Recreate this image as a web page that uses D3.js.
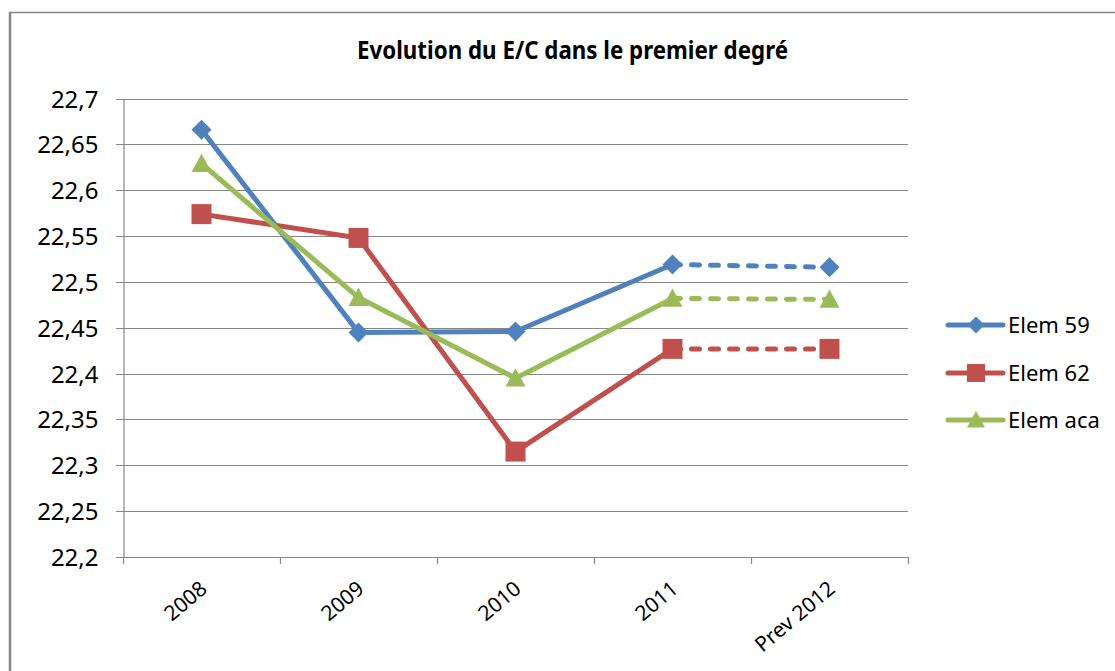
<!DOCTYPE html>
<html>
<head>
<meta charset="utf-8">
<script src="https://cdn.jsdelivr.net/npm/d3@7"></script>
<style>
  html, body { margin: 0; padding: 0; background: #fff; }
  svg { display: block; font-family: "Noto Sans", "DejaVu Sans", sans-serif; }
</style>
</head>
<body>
<svg id="chart" width="1115" height="671"></svg>
<script>
// categories (axe X)
var categories = ["2008", "2009", "2010", "2011", "Prev 2012"];

// valeurs E/C par serie
var elem59  = [22.666, 22.445, 22.446, 22.519, 22.516];
var elem62  = [22.574, 22.548, 22.315, 22.427, 22.427];
var elemAca = [22.629, 22.483, 22.395, 22.482, 22.481];

var seriesNames = ["Elem 59", "Elem 62", "Elem aca"];

// graduations axe Y
var yTicks = [22.2, 22.25, 22.3, 22.35, 22.4, 22.45, 22.5, 22.55, 22.6, 22.65, 22.7];

var title = "Evolution du E/C dans le premier degré";

var colors = ["#4F81BD", "#C0504D", "#9BBB59"];
var shapes = ["diamond", "square", "triangle"];
var gridColor = "#878787";

var series = [elem59, elem62, elemAca].map(function(values, i) {
    return {name: seriesNames[i], values: values, color: colors[i], shape: shapes[i]};
});

var svg = d3.select("#chart");

// cadre du graphique (bord gauche et haut seulement)
svg.append("line").attr("x1", 10).attr("y1", 12).attr("x2", 10).attr("y2", 671)
    .attr("stroke", gridColor).attr("stroke-width", 2.5);
svg.append("line").attr("x1", 9).attr("y1", 12.5).attr("x2", 1115).attr("y2", 12.5)
    .attr("stroke", gridColor).attr("stroke-width", 1.3);

var plotLeft = 123, plotRight = 908, plotTop = 98.6, plotBottom = 557;

var x = d3.scaleBand().domain(categories).range([plotLeft, plotRight]);
var y = d3.scaleLinear().domain([22.2, 22.7]).range([plotBottom, plotTop]);

function cx(i) { return x(categories[i]) + x.bandwidth() / 2; }

function fmt(d) { return String(+d.toFixed(2)).replace(".", ","); }

// titre
svg.append("text")
    .attr("x", 357).attr("y", 59)
    .attr("font-size", 25).attr("font-weight", "bold")
    .attr("textLength", 431).attr("lengthAdjust", "spacingAndGlyphs")
    .attr("fill", "#000")
    .text(title);

// grille horizontale
svg.append("g").selectAll("line")
    .data(yTicks)
    .enter().append("line")
    .attr("x1", plotLeft - 7).attr("x2", plotRight)
    .attr("y1", function(d) { return Math.round(y(d)) + 0.5; })
    .attr("y2", function(d) { return Math.round(y(d)) + 0.5; })
    .attr("stroke", gridColor).attr("stroke-width", 1.2);

// axe Y
var yAxis = svg.append("g")
    .attr("transform", "translate(" + (plotLeft + 0.5) + ",0)")
    .call(d3.axisLeft(y).tickValues(yTicks).tickSize(0).tickPadding(25).tickFormat(fmt));
yAxis.select(".domain").attr("stroke", gridColor).attr("stroke-width", 1.2);
yAxis.selectAll("text").attr("font-size", 24).attr("fill", "#000")
    .attr("font-family", "Noto Sans").attr("dy", "0.35em");

// axe X : graduations aux limites des categories
svg.append("g").selectAll("line")
    .data(categories.concat(["__end"]))
    .enter().append("line")
    .attr("x1", function(d, i) { return Math.round(plotLeft + i * x.bandwidth()) + 0.5; })
    .attr("x2", function(d, i) { return Math.round(plotLeft + i * x.bandwidth()) + 0.5; })
    .attr("y1", plotBottom).attr("y2", plotBottom + 7)
    .attr("stroke", gridColor).attr("stroke-width", 1.2);

svg.append("g").selectAll("text")
    .data(categories)
    .enter().append("text")
    .attr("transform", function(d, i) {
        return "translate(" + (cx(i) + 7) + "," + (plotBottom + 34) + ") rotate(-40)";
    })
    .attr("text-anchor", "end")
    .attr("font-size", 21)
    .attr("fill", "#000")
    .text(function(d) { return d; });

// marqueurs
function marker(g, shape, color, px, py, s) {
    if (shape === "diamond") {
        g.append("path")
            .attr("d", "M" + px + "," + (py - s * 0.5) + "L" + (px + s * 0.5) + "," + py +
                 "L" + px + "," + (py + s * 0.5) + "L" + (px - s * 0.5) + "," + py + "Z")
            .attr("fill", color);
    } else if (shape === "square") {
        g.append("rect")
            .attr("x", px - s * 0.5).attr("y", py - s * 0.5)
            .attr("width", s).attr("height", s)
            .attr("fill", color);
    } else {
        g.append("path")
            .attr("d", "M" + px + "," + (py - s * 0.5) + "L" + (px + s * 0.5) + "," + (py + s * 0.42) +
                 "L" + (px - s * 0.5) + "," + (py + s * 0.42) + "Z")
            .attr("fill", color);
    }
}

var markerSize = {diamond: 20, square: 20, triangle: 20};

var line = d3.line()
    .x(function(d) { return cx(d.i); })
    .y(function(d) { return y(d.v); });

series.forEach(function(s) {
    var pts = s.values.map(function(v, i) { return {i: i, v: v}; });
    var g = svg.append("g");
    g.append("path")
        .attr("d", line(pts.slice(0, 4)))
        .attr("fill", "none").attr("stroke", s.color)
        .attr("stroke-width", 5).attr("stroke-linejoin", "round");
    g.append("path")
        .attr("d", line(pts.slice(3)))
        .attr("fill", "none").attr("stroke", s.color)
        .attr("stroke-width", 5).attr("stroke-linecap", "round")
        .attr("stroke-dasharray", "8,11");
    pts.forEach(function(p) {
        marker(g, s.shape, s.color, cx(p.i), y(p.v), markerSize[s.shape]);
    });
});

// legende
var legendY = [325, 373, 420];
series.forEach(function(s, i) {
    var g = svg.append("g");
    g.append("line")
        .attr("x1", 948).attr("x2", 1003)
        .attr("y1", legendY[i]).attr("y2", legendY[i])
        .attr("stroke", s.color).attr("stroke-width", 5).attr("stroke-linecap", "round");
    marker(g, s.shape, s.color, 976, legendY[i], s.shape === "diamond" ? 17 : 18);
    g.append("text")
        .attr("x", 1008).attr("y", legendY[i]).attr("dy", "0.35em")
        .attr("font-size", 22).attr("fill", "#000")
        .text(s.name);
});
</script>
</body>
</html>
